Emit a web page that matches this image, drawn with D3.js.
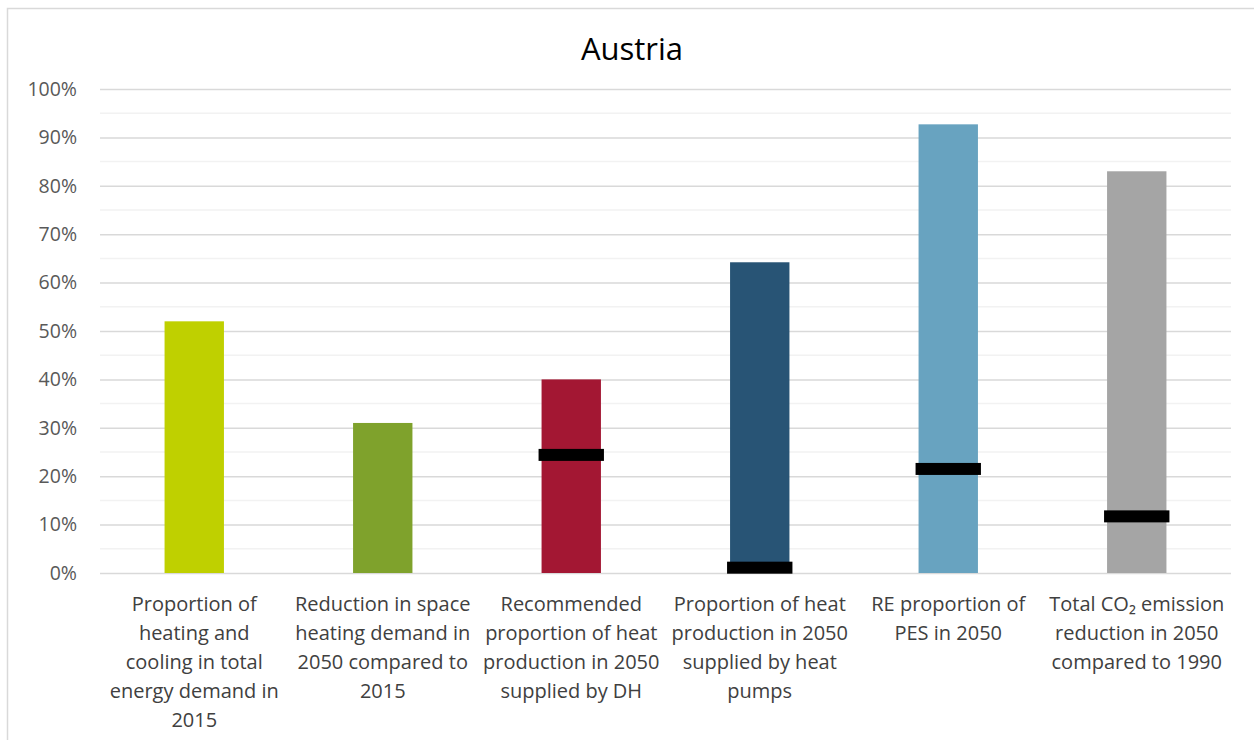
<!DOCTYPE html>
<html>
<head>
<meta charset="utf-8">
<script src="https://cdn.jsdelivr.net/npm/d3@7"></script>
<style>
  body { margin: 0; background: #fff; }
  svg { display: block; }
</style>
</head>
<body>
<svg id="chart"></svg>
<script>
const width = 1254;
const height = 740;

// data
const categories = [
    ["Proportion of", "heating and", "cooling in total", "energy demand in", "2015"],
    ["Reduction in space", "heating demand in", "2050 compared to", "2015"],
    ["Recommended", "proportion of heat", "production in 2050", "supplied by DH"],
    ["Proportion of heat", "production in 2050", "supplied by heat", "pumps"],
    ["RE proportion of", "PES in 2050"],
    ["Total CO\u2082 emission", "reduction in 2050", "compared to 1990"]
];
const values = [0.52, 0.31, 0.40, 0.642, 0.927, 0.83];
const markers = [null, null, 0.244, 0.011, 0.215, 0.117];
const barColors = ["#BFD000", "#7FA22C", "#A31733", "#285475", "#68A3C0", "#A5A5A5"];
const yTicks = [0, 0.1, 0.2, 0.3, 0.4, 0.5, 0.6, 0.7, 0.8, 0.9, 1.0];

const margin = { top: 89, right: 23, bottom: 167, left: 100 };
const font = "'Open Sans', 'Noto Sans', sans-serif";

const svg = d3.select("#chart")
    .attr("width", width)
    .attr("height", height);

// outer frame (cut off at right and bottom like the screenshot)
svg.append("rect")
    .attr("x", 7.5)
    .attr("y", 8.5)
    .attr("width", 1300)
    .attr("height", 800)
    .attr("fill", "none")
    .attr("stroke", "#D9D9D9")
    .attr("stroke-width", 1.5);

const x = d3.scaleBand()
    .domain(d3.range(categories.length))
    .range([margin.left, width - margin.right])
    .paddingInner(0.685)
    .paddingOuter(0.3425);

const y = d3.scaleLinear()
    .domain([0, 1])
    .range([height - margin.bottom, margin.top]);

// minor gridlines at 5%
svg.append("g")
    .selectAll("line")
    .data(d3.range(0.05, 1, 0.1))
    .enter().append("line")
    .attr("x1", margin.left)
    .attr("x2", width - margin.right)
    .attr("y1", d => y(d))
    .attr("y2", d => y(d))
    .attr("stroke", "#F2F2F2")
    .attr("stroke-width", 1.5);

// major gridlines + tick labels via axis
const yAxis = svg.append("g")
    .attr("transform", "translate(" + margin.left + ",0)")
    .call(d3.axisLeft(y)
        .tickValues(yTicks)
        .tickFormat(d3.format(".0%"))
        .tickSize(-(width - margin.left - margin.right))
        .tickPadding(23));

yAxis.select(".domain").remove();
yAxis.selectAll(".tick line")
    .attr("stroke", "#D9D9D9")
    .attr("stroke-width", 1.5);
yAxis.selectAll(".tick text")
    .attr("font-family", font)
    .attr("font-size", 19.5)
    .attr("fill", "#595959");

// bars
svg.append("g")
    .selectAll("rect")
    .data(values)
    .enter().append("rect")
    .attr("x", (d, i) => x(i))
    .attr("y", d => y(d))
    .attr("width", x.bandwidth())
    .attr("height", d => y(0) - y(d))
    .attr("fill", (d, i) => barColors[i]);

// black markers
const markW = x.bandwidth() + 6;
svg.append("g")
    .selectAll("rect")
    .data(markers.map((m, i) => ({ m: m, i: i })).filter(d => d.m !== null))
    .enter().append("rect")
    .attr("x", d => x(d.i) + x.bandwidth() / 2 - markW / 2)
    .attr("y", d => y(d.m) - 6)
    .attr("width", markW)
    .attr("height", 12)
    .attr("fill", "#000");

// category labels
const labels = svg.append("g");
categories.forEach((lines, i) => {
    const t = labels.append("text")
        .attr("x", x(i) + x.bandwidth() / 2)
        .attr("y", 611)
        .attr("text-anchor", "middle")
        .attr("font-family", font)
        .attr("font-size", 20)
        .attr("fill", "#404040");
    lines.forEach((line, j) => {
        t.append("tspan")
            .attr("x", x(i) + x.bandwidth() / 2)
            .attr("dy", j === 0 ? 0 : 29)
            .text(line);
    });
});

// title
svg.append("text")
    .attr("x", 632)
    .attr("y", 60)
    .attr("text-anchor", "middle")
    .attr("font-family", font)
    .attr("font-size", 31)
    .attr("fill", "#000")
    .text("Austria");
</script>
</body>
</html>
